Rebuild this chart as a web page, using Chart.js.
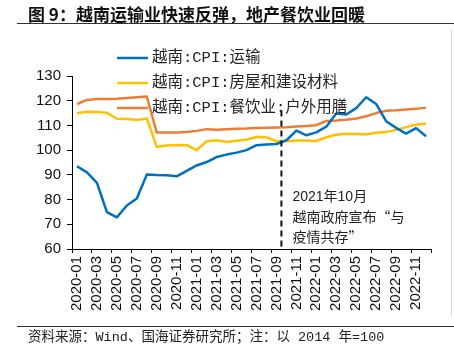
<!DOCTYPE html>
<html>
<head>
<meta charset="utf-8">
<script src="https://cdn.jsdelivr.net/npm/chart.js@4"></script>
<style>
  html, body { margin: 0; padding: 0; background: #fff; }
  #wrap { position: relative; width: 454px; height: 358px; overflow: hidden; }
  #chart { position: absolute; left: 0; top: 0; }
  .title { position: absolute; left: 28px; top: 3px; font: 700 17px "Noto Sans CJK SC", sans-serif; color: #111; white-space: nowrap; line-height: 22px; }
  .rule { position: absolute; left: 17px; right: 0; height: 0; border-top: 1.5px solid #333; }
  .edge { position: absolute; left: 451px; top: 30px; width: 1px; height: 286px; background: #d8d8d8; }
  .source { position: absolute; left: 28px; top: 329px; font: 13.5px "Liberation Mono", "Noto Sans CJK SC", monospace; color: #222; white-space: nowrap; line-height: 18px; }
</style>
</head>
<body>
<div id="wrap">
  <canvas id="chart" width="454" height="358"></canvas>
  <div class="title">图 9：越南运输业快速反弹，地产餐饮业回暖</div>
  <div class="rule" style="top:23px"></div>
  <div class="edge"></div>
  <div class="rule" style="top:326px"></div>
  <div class="source">资料来源：Wind、国海证券研究所；注：以 2014 年=100</div>
</div>
<script>
// monthly index, 2014 = 100
const months = [
  '2020-01', '2020-02', '2020-03', '2020-04', '2020-05', '2020-06', '2020-07', '2020-08', '2020-09', '2020-10', '2020-11', '2020-12',
  '2021-01', '2021-02', '2021-03', '2021-04', '2021-05', '2021-06', '2021-07', '2021-08', '2021-09', '2021-10', '2021-11', '2021-12',
  '2022-01', '2022-02', '2022-03', '2022-04', '2022-05', '2022-06', '2022-07', '2022-08', '2022-09', '2022-10', '2022-11', '2022-12'
];
const transport = [
  93.5, 91.0, 86.8, 74.9, 72.8, 77.6, 80.4, 90.1, 89.9, 89.8, 89.4, 91.6,
  93.8, 95.2, 97.2, 98.2, 99.0, 100.0, 102.0, 102.3, 102.5, 104.0, 107.9, 106.0,
  107.2, 109.5, 114.8, 114.4, 117.0, 121.4, 118.7, 111.7, 109.0, 106.7, 108.9, 105.6
];
const housing = [
  114.9, 115.5, 115.4, 115.1, 112.7, 112.6, 112.2, 112.8, 101.3, 101.9, 102.1, 102.0,
  100.0, 103.6, 104.0, 103.3, 103.8, 104.3, 105.3, 105.2, 103.6, 103.6, 103.9, 103.9,
  103.7, 105.2, 106.2, 106.6, 106.5, 106.3, 107.0, 107.3, 108.2, 109.3, 110.3, 110.8
];
const dining = [
  118.6, 120.3, 120.7, 120.7, 120.8, 121.1, 121.4, 121.7, 107.1, 107.1, 107.1, 107.3,
  107.8, 108.5, 108.3, 108.5, 108.7, 108.8, 109.0, 109.1, 109.2, 109.3, 109.6, 109.8,
  110.1, 111.8, 112.0, 112.3, 112.8, 113.7, 115.0, 115.9, 116.1, 116.4, 116.7, 117.2
];
const seriesNames = ['越南:CPI:运输', '越南:CPI:房屋和建设材料', '越南:CPI:餐饮业:户外用膳'];
const seriesColors = ['#0070C0', '#FFC000', '#ED7D31'];
const eventMonth = '2021-10';
const eventLines = ['2021年10月', '越南政府宣布“与', '疫情共存”'];

const noteAndLegend = {
  id: 'noteAndLegend',
  afterDatasetsDraw(chart) {
    const { ctx, chartArea, scales: { x, y } } = chart;
    const i = months.indexOf(eventMonth);
    const lx = (x.getPixelForValue(i) + x.getPixelForValue(i - 1)) / 2;
    ctx.save();
    // dashed marker
    ctx.strokeStyle = '#111';
    ctx.lineWidth = 2;
    ctx.setLineDash([6, 4]);
    ctx.beginPath();
    ctx.moveTo(lx, y.getPixelForValue(116));
    ctx.lineTo(lx, chartArea.bottom);
    ctx.stroke();
    ctx.setLineDash([]);

    ctx.fillStyle = '#222';
    ctx.textBaseline = 'middle';
    ctx.textAlign = 'left';
    ctx.font = '14px "Liberation Sans", "Noto Sans CJK SC"';
    ctx.fillText(eventLines[0], lx + 11, chartArea.bottom - 52);
    ctx.font = '14px "Noto Sans CJK SC"';
    ctx.fillText(eventLines[1], lx + 11, chartArea.bottom - 32);
    ctx.fillText(eventLines[2], lx + 11, chartArea.bottom - 12);

    // legend, stacked at the top
    ctx.font = '15.5px "Liberation Mono", "Noto Sans CJK SC"';
    chart.data.datasets.forEach((ds, k) => {
      const ly = 58 + k * 25;
      ctx.strokeStyle = ds.borderColor;
      ctx.lineWidth = 2.5;
      ctx.beginPath();
      ctx.moveTo(117, ly);
      ctx.lineTo(148, ly);
      ctx.stroke();
      ctx.fillStyle = '#222';
      ctx.fillText(ds.label, 152, ly);
    });
    ctx.restore();
  }
};

const tickFont = { family: '"Liberation Sans", Arial, sans-serif', size: 15 };

new Chart(document.getElementById('chart'), {
  type: 'line',
  data: {
    labels: months,
    datasets: [transport, housing, dining].map((d, k) => ({
      label: seriesNames[k],
      data: d,
      borderColor: seriesColors[k],
      backgroundColor: seriesColors[k],
      borderWidth: 2.5,
      pointRadius: 0,
      tension: 0,
      borderJoinStyle: 'round'
    }))
  },
  options: {
    responsive: false,
    animation: false,
    layout: { padding: { left: 0, top: 76, right: 23, bottom: 0 } },
    plugins: {
      legend: { display: false },
      tooltip: { enabled: false }
    },
    scales: {
      x: {
        type: 'category',
        offset: true,
        grid: {
          drawOnChartArea: false,
          offset: true,
          tickLength: 4,
          tickColor: (c) => (c.index % 2 ? 'rgba(0,0,0,0)' : '#000')
        },
        border: { color: '#000', width: 1 },
        ticks: {
          autoSkip: false,
          minRotation: 90,
          maxRotation: 90,
          padding: 3,
          color: '#111',
          font: tickFont,
          callback: function (v, i) { return i % 2 ? '' : this.getLabelForValue(v); }
        },
        afterFit: (s) => { s.height = 109; }
      },
      y: {
        min: 60,
        max: 130,
        grid: { drawOnChartArea: false, tickLength: 5, tickColor: '#000' },
        border: { color: '#000', width: 1 },
        ticks: { stepSize: 10, padding: 6, color: '#111', font: tickFont },
        afterFit: (s) => { s.width = 72; }
      }
    }
  },
  plugins: [noteAndLegend]
});
</script>
</body>
</html>
